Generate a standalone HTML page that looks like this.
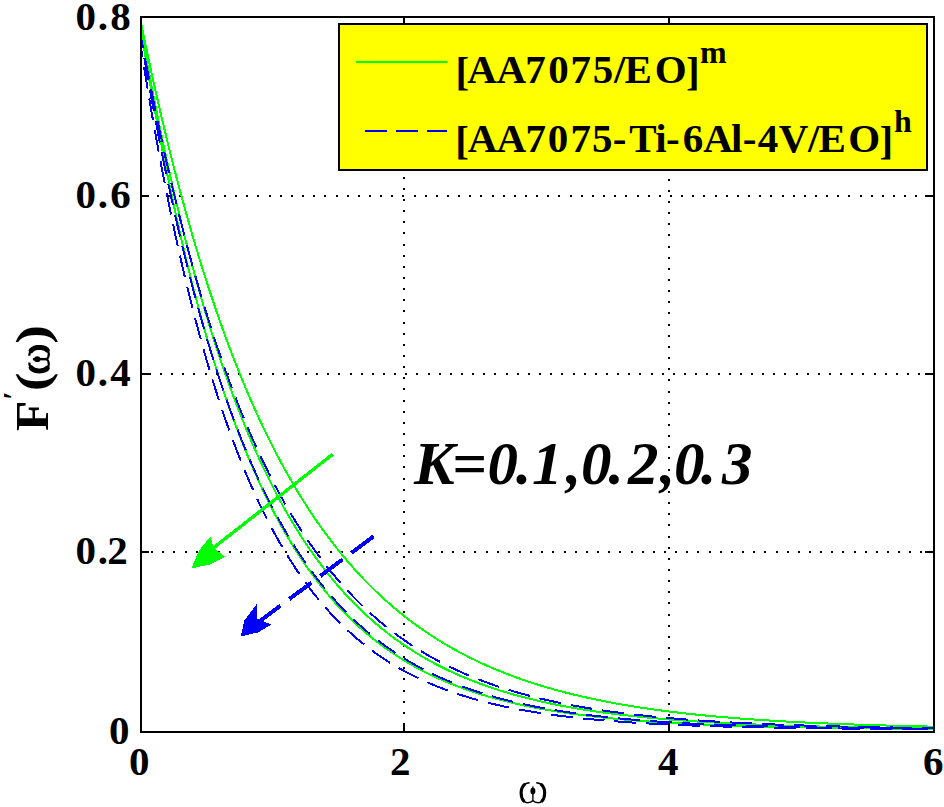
<!DOCTYPE html>
<html><head><meta charset="utf-8"><title>plot</title>
<style>
html,body{margin:0;padding:0;background:#fff;width:944px;height:807px;overflow:hidden}
svg{position:absolute;left:0;top:0;display:block}
</style></head>
<body>
<svg width="944" height="807" viewBox="0 0 944 807"><path d="M403,20h2v2h-2zM403,32h2v2h-2zM403,43h2v2h-2zM403,54h2v2h-2zM403,65h2v2h-2zM403,76h2v2h-2zM403,87h2v2h-2zM403,99h2v2h-2zM403,110h2v2h-2zM403,121h2v2h-2zM403,132h2v2h-2zM403,143h2v2h-2zM403,154h2v2h-2zM403,165h2v2h-2zM403,177h2v2h-2zM403,188h2v2h-2zM403,199h2v2h-2zM403,210h2v2h-2zM403,221h2v2h-2zM403,232h2v2h-2zM403,244h2v2h-2zM403,255h2v2h-2zM403,266h2v2h-2zM403,277h2v2h-2zM403,288h2v2h-2zM403,299h2v2h-2zM403,310h2v2h-2zM403,322h2v2h-2zM403,333h2v2h-2zM403,344h2v2h-2zM403,355h2v2h-2zM403,366h2v2h-2zM403,377h2v2h-2zM403,388h2v2h-2zM403,400h2v2h-2zM403,411h2v2h-2zM403,422h2v2h-2zM403,433h2v2h-2zM403,444h2v2h-2zM403,455h2v2h-2zM403,466h2v2h-2zM403,478h2v2h-2zM403,489h2v2h-2zM403,500h2v2h-2zM403,511h2v2h-2zM403,522h2v2h-2zM403,533h2v2h-2zM403,545h2v2h-2zM403,556h2v2h-2zM403,567h2v2h-2zM403,578h2v2h-2zM403,589h2v2h-2zM403,600h2v2h-2zM403,611h2v2h-2zM403,623h2v2h-2zM403,634h2v2h-2zM403,645h2v2h-2zM403,656h2v2h-2zM403,667h2v2h-2zM403,678h2v2h-2zM403,690h2v2h-2zM403,701h2v2h-2zM403,712h2v2h-2zM403,723h2v2h-2zM668,23h2v2h-2zM668,34h2v2h-2zM668,45h2v2h-2zM668,56h2v2h-2zM668,67h2v2h-2zM668,78h2v2h-2zM668,89h2v2h-2zM668,101h2v2h-2zM668,112h2v2h-2zM668,123h2v2h-2zM668,134h2v2h-2zM668,145h2v2h-2zM668,156h2v2h-2zM668,168h2v2h-2zM668,179h2v2h-2zM668,190h2v2h-2zM668,201h2v2h-2zM668,212h2v2h-2zM668,223h2v2h-2zM668,234h2v2h-2zM668,246h2v2h-2zM668,257h2v2h-2zM668,268h2v2h-2zM668,279h2v2h-2zM668,290h2v2h-2zM668,301h2v2h-2zM668,312h2v2h-2zM668,324h2v2h-2zM668,335h2v2h-2zM668,346h2v2h-2zM668,357h2v2h-2zM668,368h2v2h-2zM668,379h2v2h-2zM668,391h2v2h-2zM668,402h2v2h-2zM668,413h2v2h-2zM668,424h2v2h-2zM668,435h2v2h-2zM668,446h2v2h-2zM668,457h2v2h-2zM668,469h2v2h-2zM668,480h2v2h-2zM668,491h2v2h-2zM668,502h2v2h-2zM668,513h2v2h-2zM668,524h2v2h-2zM668,536h2v2h-2zM668,547h2v2h-2zM668,558h2v2h-2zM668,569h2v2h-2zM668,580h2v2h-2zM668,591h2v2h-2zM668,602h2v2h-2zM668,614h2v2h-2zM668,625h2v2h-2zM668,636h2v2h-2zM668,647h2v2h-2zM668,658h2v2h-2zM668,669h2v2h-2zM668,680h2v2h-2zM668,692h2v2h-2zM668,703h2v2h-2zM668,714h2v2h-2zM668,725h2v2h-2zM146,195h2v2h-2zM157,195h2v2h-2zM168,195h2v2h-2zM179,195h2v2h-2zM191,195h2v2h-2zM202,195h2v2h-2zM213,195h2v2h-2zM224,195h2v2h-2zM235,195h2v2h-2zM246,195h2v2h-2zM257,195h2v2h-2zM269,195h2v2h-2zM280,195h2v2h-2zM291,195h2v2h-2zM302,195h2v2h-2zM313,195h2v2h-2zM324,195h2v2h-2zM336,195h2v2h-2zM347,195h2v2h-2zM358,195h2v2h-2zM369,195h2v2h-2zM380,195h2v2h-2zM391,195h2v2h-2zM402,195h2v2h-2zM414,195h2v2h-2zM425,195h2v2h-2zM436,195h2v2h-2zM447,195h2v2h-2zM458,195h2v2h-2zM469,195h2v2h-2zM480,195h2v2h-2zM492,195h2v2h-2zM503,195h2v2h-2zM514,195h2v2h-2zM525,195h2v2h-2zM536,195h2v2h-2zM547,195h2v2h-2zM558,195h2v2h-2zM570,195h2v2h-2zM581,195h2v2h-2zM592,195h2v2h-2zM603,195h2v2h-2zM614,195h2v2h-2zM625,195h2v2h-2zM637,195h2v2h-2zM648,195h2v2h-2zM659,195h2v2h-2zM670,195h2v2h-2zM681,195h2v2h-2zM692,195h2v2h-2zM703,195h2v2h-2zM715,195h2v2h-2zM726,195h2v2h-2zM737,195h2v2h-2zM748,195h2v2h-2zM759,195h2v2h-2zM770,195h2v2h-2zM782,195h2v2h-2zM793,195h2v2h-2zM804,195h2v2h-2zM815,195h2v2h-2zM826,195h2v2h-2zM837,195h2v2h-2zM848,195h2v2h-2zM860,195h2v2h-2zM871,195h2v2h-2zM882,195h2v2h-2zM893,195h2v2h-2zM904,195h2v2h-2zM915,195h2v2h-2zM926,195h2v2h-2zM149,373h2v2h-2zM160,373h2v2h-2zM171,373h2v2h-2zM182,373h2v2h-2zM193,373h2v2h-2zM205,373h2v2h-2zM216,373h2v2h-2zM227,373h2v2h-2zM238,373h2v2h-2zM249,373h2v2h-2zM260,373h2v2h-2zM272,373h2v2h-2zM283,373h2v2h-2zM294,373h2v2h-2zM305,373h2v2h-2zM316,373h2v2h-2zM327,373h2v2h-2zM338,373h2v2h-2zM350,373h2v2h-2zM361,373h2v2h-2zM372,373h2v2h-2zM383,373h2v2h-2zM394,373h2v2h-2zM405,373h2v2h-2zM416,373h2v2h-2zM428,373h2v2h-2zM439,373h2v2h-2zM450,373h2v2h-2zM461,373h2v2h-2zM472,373h2v2h-2zM483,373h2v2h-2zM494,373h2v2h-2zM506,373h2v2h-2zM517,373h2v2h-2zM528,373h2v2h-2zM539,373h2v2h-2zM550,373h2v2h-2zM561,373h2v2h-2zM573,373h2v2h-2zM584,373h2v2h-2zM595,373h2v2h-2zM606,373h2v2h-2zM617,373h2v2h-2zM628,373h2v2h-2zM639,373h2v2h-2zM651,373h2v2h-2zM662,373h2v2h-2zM673,373h2v2h-2zM684,373h2v2h-2zM695,373h2v2h-2zM706,373h2v2h-2zM718,373h2v2h-2zM729,373h2v2h-2zM740,373h2v2h-2zM751,373h2v2h-2zM762,373h2v2h-2zM773,373h2v2h-2zM784,373h2v2h-2zM796,373h2v2h-2zM807,373h2v2h-2zM818,373h2v2h-2zM829,373h2v2h-2zM840,373h2v2h-2zM851,373h2v2h-2zM862,373h2v2h-2zM874,373h2v2h-2zM885,373h2v2h-2zM896,373h2v2h-2zM907,373h2v2h-2zM918,373h2v2h-2zM929,373h2v2h-2zM151,551h2v2h-2zM162,551h2v2h-2zM173,551h2v2h-2zM185,551h2v2h-2zM196,551h2v2h-2zM207,551h2v2h-2zM218,551h2v2h-2zM229,551h2v2h-2zM240,551h2v2h-2zM251,551h2v2h-2zM263,551h2v2h-2zM274,551h2v2h-2zM285,551h2v2h-2zM296,551h2v2h-2zM307,551h2v2h-2zM318,551h2v2h-2zM330,551h2v2h-2zM341,551h2v2h-2zM352,551h2v2h-2zM363,551h2v2h-2zM374,551h2v2h-2zM385,551h2v2h-2zM396,551h2v2h-2zM408,551h2v2h-2zM419,551h2v2h-2zM430,551h2v2h-2zM441,551h2v2h-2zM452,551h2v2h-2zM463,551h2v2h-2zM474,551h2v2h-2zM486,551h2v2h-2zM497,551h2v2h-2zM508,551h2v2h-2zM519,551h2v2h-2zM530,551h2v2h-2zM541,551h2v2h-2zM552,551h2v2h-2zM564,551h2v2h-2zM575,551h2v2h-2zM586,551h2v2h-2zM597,551h2v2h-2zM608,551h2v2h-2zM619,551h2v2h-2zM631,551h2v2h-2zM642,551h2v2h-2zM653,551h2v2h-2zM664,551h2v2h-2zM675,551h2v2h-2zM686,551h2v2h-2zM697,551h2v2h-2zM709,551h2v2h-2zM720,551h2v2h-2zM731,551h2v2h-2zM742,551h2v2h-2zM753,551h2v2h-2zM764,551h2v2h-2zM776,551h2v2h-2zM787,551h2v2h-2zM798,551h2v2h-2zM809,551h2v2h-2zM820,551h2v2h-2zM831,551h2v2h-2zM842,551h2v2h-2zM854,551h2v2h-2zM865,551h2v2h-2zM876,551h2v2h-2zM887,551h2v2h-2zM898,551h2v2h-2zM909,551h2v2h-2zM920,551h2v2h-2z" fill="#000"/><g fill="none" stroke-width="2" stroke-linejoin="round" shape-rendering="crispEdges"><path d="M139.00,13.05 L139.05,13.32 L139.17,13.87 L139.32,14.62 L139.50,15.54 L139.72,16.61 L139.96,17.81 L140.23,19.13 L140.52,20.57 L140.83,22.13 L141.17,23.78 L141.53,25.53 L141.91,27.38 L142.30,29.31 L142.72,31.33 L143.15,33.44 L143.61,35.62 L144.08,37.88 L144.56,40.21 L145.06,42.61 L145.58,45.08 L146.12,47.62 L146.67,50.22 L147.23,52.88 L147.81,55.60 L148.41,58.38 L149.02,61.22 L149.64,64.11 L150.28,67.05 L150.93,70.04 L151.60,73.08 L152.27,76.17 L152.97,79.30 L153.67,82.47 L154.39,85.69 L155.12,88.95 L155.86,92.25 L156.62,95.59 L157.38,98.96 L158.17,102.37 L158.96,105.81 L159.76,109.29 L160.58,112.79 L161.41,116.33 L162.25,119.90 L163.10,123.49 L163.96,127.11 L164.83,130.76 L165.72,134.43 L166.61,138.12 L167.52,141.83 L168.44,145.57 L169.37,149.33 L170.31,153.10 L171.26,156.90 L172.22,160.71 L173.19,164.53 L174.17,168.38 L175.17,172.23 L176.17,176.10 L177.18,179.98 L178.20,183.88 L179.24,187.78 L180.28,191.69 L181.33,195.61 L182.40,199.54 L183.47,203.48 L184.55,207.42 L185.65,211.37 L186.75,215.32 L187.86,219.28 L188.98,223.24 L190.11,227.20 L191.25,231.17 L192.40,235.13 L193.56,239.10 L194.73,243.07 L195.91,247.03 L197.10,250.99 L198.29,254.95 L199.50,258.91 L200.71,262.87 L201.94,266.82 L203.17,270.76 L204.41,274.70 L205.66,278.64 L206.92,282.56 L208.19,286.48 L209.47,290.40 L210.75,294.30 L212.05,298.20 L213.35,302.08 L214.66,305.96 L215.98,309.83 L217.31,313.68 L218.65,317.53 L219.99,321.36 L221.35,325.18 L222.71,328.99 L224.08,332.79 L225.46,336.57 L226.85,340.34 L228.24,344.10 L229.65,347.84 L231.06,351.56 L232.48,355.27 L233.91,358.97 L235.34,362.65 L236.79,366.31 L238.24,369.96 L239.70,373.59 L241.17,377.20 L242.65,380.80 L244.13,384.38 L245.62,387.94 L247.12,391.48 L248.63,395.00 L250.15,398.51 L251.67,402.00 L253.20,405.46 L254.74,408.91 L256.29,412.34 L257.85,415.74 L259.41,419.13 L260.98,422.50 L262.56,425.85 L264.14,429.17 L265.73,432.48 L267.33,435.76 L268.94,439.02 L270.56,442.27 L272.18,445.49 L273.81,448.69 L275.45,451.86 L277.09,455.02 L278.75,458.15 L280.41,461.26 L282.07,464.35 L283.75,467.42 L285.43,470.46 L287.12,473.49 L288.82,476.49 L290.52,479.46 L292.23,482.42 L293.95,485.35 L295.67,488.26 L297.41,491.14 L299.15,494.01 L300.89,496.85 L302.65,499.67 L304.41,502.46 L306.18,505.23 L307.95,507.98 L309.73,510.71 L311.52,513.41 L313.32,516.09 L315.12,518.74 L316.93,521.38 L318.75,523.99 L320.57,526.58 L322.40,529.14 L324.24,531.68 L326.08,534.20 L327.93,536.70 L329.79,539.17 L331.66,541.62 L333.53,544.05 L335.41,546.45 L337.29,548.83 L339.18,551.19 L341.08,553.53 L342.99,555.84 L344.90,558.13 L346.82,560.40 L348.74,562.65 L350.68,564.87 L352.61,567.08 L354.56,569.26 L356.51,571.42 L358.47,573.55 L360.43,575.67 L362.41,577.76 L364.38,579.83 L366.37,581.88 L368.36,583.91 L370.36,585.91 L372.36,587.90 L374.37,589.86 L376.39,591.81 L378.41,593.73 L380.44,595.63 L382.48,597.51 L384.52,599.37 L386.57,601.21 L388.63,603.03 L390.69,604.83 L392.76,606.61 L394.83,608.37 L396.91,610.11 L399.00,611.82 L401.09,613.52 L403.19,615.20 L405.30,616.86 L407.41,618.50 L409.53,620.13 L411.66,621.73 L413.79,623.31 L415.92,624.88 L418.07,626.42 L420.22,627.95 L422.37,629.46 L424.54,630.95 L426.70,632.43 L428.88,633.88 L431.06,635.32 L433.25,636.74 L435.44,638.14 L437.64,639.53 L439.84,640.90 L442.05,642.25 L444.27,643.58 L446.49,644.90 L448.72,646.20 L450.96,647.48 L453.20,648.75 L455.45,650.00 L457.70,651.23 L459.96,652.45 L462.22,653.66 L464.50,654.84 L466.77,656.02 L469.06,657.17 L471.35,658.31 L473.64,659.44 L475.94,660.55 L478.25,661.65 L480.56,662.73 L482.88,663.80 L485.20,664.85 L487.53,665.89 L489.87,666.91 L492.21,667.92 L494.56,668.92 L496.91,669.90 L499.27,670.87 L501.64,671.82 L504.01,672.77 L506.39,673.70 L508.77,674.61 L511.16,675.52 L513.55,676.41 L515.95,677.28 L518.36,678.15 L520.77,679.00 L523.19,679.84 L525.61,680.67 L528.04,681.49 L530.47,682.29 L532.91,683.09 L535.36,683.87 L537.81,684.64 L540.27,685.40 L542.73,686.15 L545.20,686.88 L547.67,687.61 L550.15,688.33 L552.64,689.03 L555.13,689.73 L557.62,690.41 L560.13,691.08 L562.63,691.75 L565.15,692.40 L567.67,693.04 L570.19,693.68 L572.72,694.30 L575.26,694.92 L577.80,695.52 L580.34,696.12 L582.90,696.70 L585.45,697.28 L588.02,697.85 L590.58,698.41 L593.16,698.96 L595.74,699.50 L598.32,700.04 L600.91,700.56 L603.51,701.08 L606.11,701.59 L608.72,702.09 L611.33,702.58 L613.95,703.07 L616.57,703.55 L619.20,704.02 L621.83,704.48 L624.47,704.93 L627.12,705.38 L629.77,705.82 L632.42,706.25 L635.08,706.68 L637.75,707.10 L640.42,707.51 L643.10,707.91 L645.78,708.31 L648.47,708.70 L651.16,709.09 L653.86,709.47 L656.56,709.84 L659.27,710.21 L661.99,710.57 L664.71,710.92 L667.43,711.27 L670.16,711.61 L672.90,711.95 L675.64,712.28 L678.38,712.61 L681.13,712.93 L683.89,713.24 L686.65,713.55 L689.42,713.85 L692.19,714.15 L694.97,714.45 L697.75,714.73 L700.54,715.02 L703.33,715.30 L706.13,715.57 L708.93,715.84 L711.74,716.10 L714.55,716.36 L717.37,716.62 L720.20,716.87 L723.02,717.11 L725.86,717.35 L728.70,717.59 L731.54,717.82 L734.39,718.05 L737.25,718.28 L740.11,718.50 L742.97,718.71 L745.84,718.93 L748.72,719.14 L751.60,719.34 L754.48,719.54 L757.37,719.74 L760.27,719.94 L763.17,720.13 L766.07,720.31 L768.99,720.50 L771.90,720.68 L774.82,720.86 L777.75,721.03 L780.68,721.20 L783.61,721.37 L786.56,721.53 L789.50,721.69 L792.45,721.85 L795.41,722.01 L798.37,722.16 L801.34,722.31 L804.31,722.46 L807.28,722.60 L810.26,722.74 L813.25,722.88 L816.24,723.02 L819.24,723.15 L822.24,723.28 L825.24,723.41 L828.25,723.54 L831.27,723.66 L834.29,723.78 L837.31,723.90 L840.34,724.02 L843.38,724.13 L846.42,724.24 L849.47,724.35 L852.52,724.46 L855.57,724.57 L858.63,724.67 L861.69,724.77 L864.76,724.87 L867.84,724.97 L870.92,725.07 L874.00,725.16 L877.09,725.25 L880.19,725.34 L883.28,725.43 L886.39,725.52 L889.50,725.60 L892.61,725.69 L895.73,725.77 L898.85,725.85 L901.98,725.93 L905.11,726.00 L908.25,726.08 L911.39,726.15 L914.54,726.23 L917.69,726.30 L920.85,726.37 L924.01,726.43 L927.17,726.50 L930.34,726.57 L933.52,726.63" stroke="#00ff00"/><path d="M139.00,17.50 L139.05,17.81 L139.17,18.45 L139.32,19.31 L139.50,20.36 L139.72,21.59 L139.96,22.97 L140.23,24.49 L140.52,26.15 L140.83,27.93 L141.17,29.83 L141.53,31.84 L141.91,33.96 L142.30,36.17 L142.72,38.49 L143.15,40.90 L143.61,43.40 L144.08,45.98 L144.56,48.65 L145.06,51.40 L145.58,54.22 L146.12,57.12 L146.67,60.08 L147.23,63.12 L147.81,66.22 L148.41,69.39 L149.02,72.61 L149.64,75.90 L150.28,79.24 L150.93,82.64 L151.60,86.09 L152.27,89.59 L152.97,93.14 L153.67,96.74 L154.39,100.38 L155.12,104.07 L155.86,107.79 L156.62,111.56 L157.38,115.36 L158.17,119.21 L158.96,123.08 L159.76,126.99 L160.58,130.93 L161.41,134.91 L162.25,138.91 L163.10,142.94 L163.96,146.99 L164.83,151.07 L165.72,155.17 L166.61,159.30 L167.52,163.44 L168.44,167.61 L169.37,171.79 L170.31,175.99 L171.26,180.20 L172.22,184.43 L173.19,188.68 L174.17,192.93 L175.17,197.20 L176.17,201.47 L177.18,205.76 L178.20,210.05 L179.24,214.35 L180.28,218.65 L181.33,222.96 L182.40,227.28 L183.47,231.59 L184.55,235.91 L185.65,240.23 L186.75,244.55 L187.86,248.87 L188.98,253.18 L190.11,257.50 L191.25,261.81 L192.40,266.11 L193.56,270.41 L194.73,274.71 L195.91,279.00 L197.10,283.28 L198.29,287.55 L199.50,291.81 L200.71,296.07 L201.94,300.31 L203.17,304.55 L204.41,308.77 L205.66,312.98 L206.92,317.17 L208.19,321.36 L209.47,325.53 L210.75,329.68 L212.05,333.82 L213.35,337.95 L214.66,342.06 L215.98,346.15 L217.31,350.22 L218.65,354.28 L219.99,358.32 L221.35,362.34 L222.71,366.34 L224.08,370.32 L225.46,374.28 L226.85,378.23 L228.24,382.15 L229.65,386.05 L231.06,389.93 L232.48,393.78 L233.91,397.62 L235.34,401.43 L236.79,405.22 L238.24,408.99 L239.70,412.73 L241.17,416.45 L242.65,420.15 L244.13,423.82 L245.62,427.47 L247.12,431.09 L248.63,434.69 L250.15,438.26 L251.67,441.81 L253.20,445.33 L254.74,448.83 L256.29,452.30 L257.85,455.74 L259.41,459.16 L260.98,462.55 L262.56,465.92 L264.14,469.26 L265.73,472.57 L267.33,475.86 L268.94,479.11 L270.56,482.35 L272.18,485.55 L273.81,488.73 L275.45,491.88 L277.09,495.00 L278.75,498.10 L280.41,501.17 L282.07,504.21 L283.75,507.22 L285.43,510.21 L287.12,513.17 L288.82,516.10 L290.52,519.00 L292.23,521.88 L293.95,524.73 L295.67,527.55 L297.41,530.35 L299.15,533.11 L300.89,535.85 L302.65,538.56 L304.41,541.25 L306.18,543.91 L307.95,546.54 L309.73,549.14 L311.52,551.72 L313.32,554.27 L315.12,556.79 L316.93,559.28 L318.75,561.75 L320.57,564.20 L322.40,566.61 L324.24,569.00 L326.08,571.36 L327.93,573.70 L329.79,576.01 L331.66,578.30 L333.53,580.56 L335.41,582.79 L337.29,585.00 L339.18,587.18 L341.08,589.34 L342.99,591.47 L344.90,593.57 L346.82,595.65 L348.74,597.71 L350.68,599.74 L352.61,601.75 L354.56,603.73 L356.51,605.69 L358.47,607.63 L360.43,609.54 L362.41,611.43 L364.38,613.29 L366.37,615.13 L368.36,616.95 L370.36,618.74 L372.36,620.51 L374.37,622.26 L376.39,623.99 L378.41,625.69 L380.44,627.37 L382.48,629.03 L384.52,630.67 L386.57,632.28 L388.63,633.88 L390.69,635.45 L392.76,637.00 L394.83,638.53 L396.91,640.04 L399.00,641.53 L401.09,643.00 L403.19,644.45 L405.30,645.88 L407.41,647.28 L409.53,648.67 L411.66,650.04 L413.79,651.39 L415.92,652.72 L418.07,654.04 L420.22,655.33 L422.37,656.61 L424.54,657.86 L426.70,659.10 L428.88,660.32 L431.06,661.52 L433.25,662.71 L435.44,663.88 L437.64,665.03 L439.84,666.16 L442.05,667.28 L444.27,668.38 L446.49,669.46 L448.72,670.53 L450.96,671.58 L453.20,672.61 L455.45,673.63 L457.70,674.63 L459.96,675.62 L462.22,676.59 L464.50,677.55 L466.77,678.49 L469.06,679.42 L471.35,680.34 L473.64,681.24 L475.94,682.12 L478.25,682.99 L480.56,683.85 L482.88,684.69 L485.20,685.52 L487.53,686.34 L489.87,687.14 L492.21,687.93 L494.56,688.71 L496.91,689.47 L499.27,690.23 L501.64,690.97 L504.01,691.69 L506.39,692.41 L508.77,693.11 L511.16,693.81 L513.55,694.49 L515.95,695.16 L518.36,695.81 L520.77,696.46 L523.19,697.10 L525.61,697.72 L528.04,698.34 L530.47,698.94 L532.91,699.54 L535.36,700.12 L537.81,700.69 L540.27,701.26 L542.73,701.81 L545.20,702.36 L547.67,702.89 L550.15,703.42 L552.64,703.93 L555.13,704.44 L557.62,704.94 L560.13,705.43 L562.63,705.91 L565.15,706.38 L567.67,706.84 L570.19,707.30 L572.72,707.75 L575.26,708.18 L577.80,708.62 L580.34,709.04 L582.90,709.45 L585.45,709.86 L588.02,710.26 L590.58,710.66 L593.16,711.04 L595.74,711.42 L598.32,711.79 L600.91,712.16 L603.51,712.52 L606.11,712.87 L608.72,713.21 L611.33,713.55 L613.95,713.88 L616.57,714.21 L619.20,714.53 L621.83,714.84 L624.47,715.15 L627.12,715.45 L629.77,715.75 L632.42,716.04 L635.08,716.33 L637.75,716.61 L640.42,716.88 L643.10,717.15 L645.78,717.41 L648.47,717.67 L651.16,717.92 L653.86,718.17 L656.56,718.42 L659.27,718.65 L661.99,718.89 L664.71,719.12 L667.43,719.34 L670.16,719.56 L672.90,719.78 L675.64,719.99 L678.38,720.20 L681.13,720.40 L683.89,720.60 L686.65,720.80 L689.42,720.99 L692.19,721.18 L694.97,721.36 L697.75,721.54 L700.54,721.72 L703.33,721.89 L706.13,722.06 L708.93,722.23 L711.74,722.39 L714.55,722.55 L717.37,722.70 L720.20,722.86 L723.02,723.01 L725.86,723.15 L728.70,723.29 L731.54,723.44 L734.39,723.57 L737.25,723.71 L740.11,723.84 L742.97,723.97 L745.84,724.09 L748.72,724.22 L751.60,724.34 L754.48,724.46 L757.37,724.57 L760.27,724.69 L763.17,724.80 L766.07,724.91 L768.99,725.01 L771.90,725.12 L774.82,725.22 L777.75,725.32 L780.68,725.42 L783.61,725.51 L786.56,725.60 L789.50,725.69 L792.45,725.78 L795.41,725.87 L798.37,725.96 L801.34,726.04 L804.31,726.12 L807.28,726.20 L810.26,726.28 L813.25,726.36 L816.24,726.43 L819.24,726.50 L822.24,726.58 L825.24,726.65 L828.25,726.71 L831.27,726.78 L834.29,726.85 L837.31,726.91 L840.34,726.97 L843.38,727.03 L846.42,727.09 L849.47,727.15 L852.52,727.21 L855.57,727.26 L858.63,727.32 L861.69,727.37 L864.76,727.42 L867.84,727.47 L870.92,727.52 L874.00,727.57 L877.09,727.62 L880.19,727.67 L883.28,727.71 L886.39,727.75 L889.50,727.80 L892.61,727.84 L895.73,727.88 L898.85,727.92 L901.98,727.96 L905.11,728.00 L908.25,728.04 L911.39,728.07 L914.54,728.11 L917.69,728.14 L920.85,728.18 L924.01,728.21 L927.17,728.24 L930.34,728.27 L933.52,728.31" stroke="#00ff00"/><path d="M139.00,17.50 L139.05,17.84 L139.17,18.54 L139.32,19.48 L139.50,20.63 L139.72,21.97 L139.96,23.48 L140.23,25.15 L140.52,26.96 L140.83,28.90 L141.17,30.97 L141.53,33.17 L141.91,35.48 L142.30,37.90 L142.72,40.43 L143.15,43.06 L143.61,45.78 L144.08,48.60 L144.56,51.50 L145.06,54.49 L145.58,57.57 L146.12,60.72 L146.67,63.95 L147.23,67.25 L147.81,70.62 L148.41,74.06 L149.02,77.56 L149.64,81.13 L150.28,84.76 L150.93,88.44 L151.60,92.18 L152.27,95.97 L152.97,99.82 L153.67,103.71 L154.39,107.65 L155.12,111.63 L155.86,115.66 L156.62,119.73 L157.38,123.83 L158.17,127.98 L158.96,132.15 L159.76,136.37 L160.58,140.61 L161.41,144.88 L162.25,149.18 L163.10,153.51 L163.96,157.87 L164.83,162.24 L165.72,166.64 L166.61,171.06 L167.52,175.50 L168.44,179.96 L169.37,184.43 L170.31,188.92 L171.26,193.42 L172.22,197.94 L173.19,202.46 L174.17,206.99 L175.17,211.54 L176.17,216.09 L177.18,220.64 L178.20,225.20 L179.24,229.77 L180.28,234.33 L181.33,238.90 L182.40,243.47 L183.47,248.04 L184.55,252.60 L185.65,257.16 L186.75,261.72 L187.86,266.28 L188.98,270.83 L190.11,275.37 L191.25,279.90 L192.40,284.43 L193.56,288.94 L194.73,293.45 L195.91,297.95 L197.10,302.43 L198.29,306.90 L199.50,311.36 L200.71,315.80 L201.94,320.23 L203.17,324.65 L204.41,329.05 L205.66,333.43 L206.92,337.79 L208.19,342.14 L209.47,346.46 L210.75,350.77 L212.05,355.06 L213.35,359.33 L214.66,363.57 L215.98,367.80 L217.31,372.00 L218.65,376.18 L219.99,380.34 L221.35,384.48 L222.71,388.59 L224.08,392.67 L225.46,396.74 L226.85,400.77 L228.24,404.78 L229.65,408.77 L231.06,412.73 L232.48,416.66 L233.91,420.57 L235.34,424.45 L236.79,428.30 L238.24,432.13 L239.70,435.93 L241.17,439.70 L242.65,443.44 L244.13,447.15 L245.62,450.83 L247.12,454.49 L248.63,458.11 L250.15,461.71 L251.67,465.27 L253.20,468.81 L254.74,472.32 L256.29,475.79 L257.85,479.24 L259.41,482.66 L260.98,486.04 L262.56,489.40 L264.14,492.72 L265.73,496.02 L267.33,499.28 L268.94,502.52 L270.56,505.72 L272.18,508.89 L273.81,512.04 L275.45,515.15 L277.09,518.23 L278.75,521.28 L280.41,524.29 L282.07,527.28 L283.75,530.24 L285.43,533.17 L287.12,536.06 L288.82,538.93 L290.52,541.76 L292.23,544.57 L293.95,547.34 L295.67,550.09 L297.41,552.80 L299.15,555.48 L300.89,558.14 L302.65,560.76 L304.41,563.35 L306.18,565.92 L307.95,568.45 L309.73,570.96 L311.52,573.43 L313.32,575.88 L315.12,578.30 L316.93,580.69 L318.75,583.05 L320.57,585.38 L322.40,587.68 L324.24,589.95 L326.08,592.20 L327.93,594.42 L329.79,596.61 L331.66,598.77 L333.53,600.91 L335.41,603.01 L337.29,605.09 L339.18,607.15 L341.08,609.17 L342.99,611.17 L344.90,613.15 L346.82,615.09 L348.74,617.02 L350.68,618.91 L352.61,620.78 L354.56,622.63 L356.51,624.45 L358.47,626.24 L360.43,628.01 L362.41,629.76 L364.38,631.48 L366.37,633.17 L368.36,634.85 L370.36,636.50 L372.36,638.12 L374.37,639.72 L376.39,641.30 L378.41,642.86 L380.44,644.39 L382.48,645.90 L384.52,647.39 L386.57,648.86 L388.63,650.30 L390.69,651.73 L392.76,653.13 L394.83,654.51 L396.91,655.87 L399.00,657.21 L401.09,658.53 L403.19,659.83 L405.30,661.11 L407.41,662.37 L409.53,663.61 L411.66,664.83 L413.79,666.03 L415.92,667.21 L418.07,668.38 L420.22,669.52 L422.37,670.65 L424.54,671.76 L426.70,672.85 L428.88,673.92 L431.06,674.98 L433.25,676.02 L435.44,677.04 L437.64,678.04 L439.84,679.03 L442.05,680.00 L444.27,680.96 L446.49,681.90 L448.72,682.83 L450.96,683.73 L453.20,684.63 L455.45,685.51 L457.70,686.37 L459.96,687.22 L462.22,688.05 L464.50,688.87 L466.77,689.68 L469.06,690.47 L471.35,691.25 L473.64,692.01 L475.94,692.76 L478.25,693.50 L480.56,694.23 L482.88,694.94 L485.20,695.64 L487.53,696.33 L489.87,697.00 L492.21,697.66 L494.56,698.31 L496.91,698.95 L499.27,699.58 L501.64,700.20 L504.01,700.80 L506.39,701.40 L508.77,701.98 L511.16,702.55 L513.55,703.11 L515.95,703.66 L518.36,704.21 L520.77,704.74 L523.19,705.26 L525.61,705.77 L528.04,706.27 L530.47,706.76 L532.91,707.25 L535.36,707.72 L537.81,708.18 L540.27,708.64 L542.73,709.09 L545.20,709.53 L547.67,709.96 L550.15,710.38 L552.64,710.79 L555.13,711.20 L557.62,711.59 L560.13,711.98 L562.63,712.37 L565.15,712.74 L567.67,713.11 L570.19,713.47 L572.72,713.82 L575.26,714.17 L577.80,714.51 L580.34,714.84 L582.90,715.16 L585.45,715.48 L588.02,715.80 L590.58,716.10 L593.16,716.40 L595.74,716.70 L598.32,716.98 L600.91,717.27 L603.51,717.54 L606.11,717.81 L608.72,718.08 L611.33,718.34 L613.95,718.59 L616.57,718.84 L619.20,719.08 L621.83,719.32 L624.47,719.56 L627.12,719.78 L629.77,720.01 L632.42,720.23 L635.08,720.44 L637.75,720.65 L640.42,720.86 L643.10,721.06 L645.78,721.26 L648.47,721.45 L651.16,721.64 L653.86,721.82 L656.56,722.00 L659.27,722.18 L661.99,722.35 L664.71,722.52 L667.43,722.69 L670.16,722.85 L672.90,723.01 L675.64,723.16 L678.38,723.31 L681.13,723.46 L683.89,723.60 L686.65,723.75 L689.42,723.88 L692.19,724.02 L694.97,724.15 L697.75,724.28 L700.54,724.41 L703.33,724.53 L706.13,724.65 L708.93,724.77 L711.74,724.89 L714.55,725.00 L717.37,725.11 L720.20,725.22 L723.02,725.32 L725.86,725.42 L728.70,725.52 L731.54,725.62 L734.39,725.72 L737.25,725.81 L740.11,725.90 L742.97,725.99 L745.84,726.08 L748.72,726.17 L751.60,726.25 L754.48,726.33 L757.37,726.41 L760.27,726.49 L763.17,726.56 L766.07,726.64 L768.99,726.71 L771.90,726.78 L774.82,726.85 L777.75,726.92 L780.68,726.98 L783.61,727.05 L786.56,727.11 L789.50,727.17 L792.45,727.23 L795.41,727.29 L798.37,727.35 L801.34,727.40 L804.31,727.46 L807.28,727.51 L810.26,727.56 L813.25,727.61 L816.24,727.66 L819.24,727.71 L822.24,727.75 L825.24,727.80 L828.25,727.84 L831.27,727.89 L834.29,727.93 L837.31,727.97 L840.34,728.01 L843.38,728.05 L846.42,728.09 L849.47,728.13 L852.52,728.16 L855.57,728.20 L858.63,728.23 L861.69,728.27 L864.76,728.30 L867.84,728.33 L870.92,728.36 L874.00,728.39 L877.09,728.42 L880.19,728.45 L883.28,728.48 L886.39,728.51 L889.50,728.53 L892.61,728.56 L895.73,728.59 L898.85,728.61 L901.98,728.63 L905.11,728.66 L908.25,728.68 L911.39,728.70 L914.54,728.73 L917.69,728.75 L920.85,728.77 L924.01,728.79 L927.17,728.81 L930.34,728.83 L933.52,728.84" stroke="#00ff00"/><path d="M139.00,26.40 L139.05,26.70 L139.17,27.30 L139.32,28.13 L139.50,29.14 L139.72,30.31 L139.96,31.63 L140.23,33.08 L140.52,34.66 L140.83,36.36 L141.17,38.18 L141.53,40.10 L141.91,42.12 L142.30,44.24 L142.72,46.46 L143.15,48.76 L143.61,51.15 L144.08,53.62 L144.56,56.17 L145.06,58.80 L145.58,61.50 L146.12,64.27 L146.67,67.11 L147.23,70.02 L147.81,72.99 L148.41,76.02 L149.02,79.11 L149.64,82.25 L150.28,85.45 L150.93,88.71 L151.60,92.02 L152.27,95.37 L152.97,98.77 L153.67,102.22 L154.39,105.71 L155.12,109.25 L155.86,112.82 L156.62,116.44 L157.38,120.09 L158.17,123.77 L158.96,127.50 L159.76,131.25 L160.58,135.04 L161.41,138.85 L162.25,142.70 L163.10,146.57 L163.96,150.46 L164.83,154.39 L165.72,158.33 L166.61,162.30 L167.52,166.29 L168.44,170.30 L169.37,174.32 L170.31,178.37 L171.26,182.42 L172.22,186.50 L173.19,190.59 L174.17,194.69 L175.17,198.80 L176.17,202.92 L177.18,207.06 L178.20,211.20 L179.24,215.35 L180.28,219.50 L181.33,223.67 L182.40,227.83 L183.47,232.00 L184.55,236.18 L185.65,240.35 L186.75,244.53 L187.86,248.70 L188.98,252.88 L190.11,257.06 L191.25,261.23 L192.40,265.40 L193.56,269.57 L194.73,273.73 L195.91,277.88 L197.10,282.04 L198.29,286.18 L199.50,290.32 L200.71,294.45 L201.94,298.57 L203.17,302.68 L204.41,306.78 L205.66,310.87 L206.92,314.95 L208.19,319.02 L209.47,323.08 L210.75,327.12 L212.05,331.15 L213.35,335.17 L214.66,339.17 L215.98,343.16 L217.31,347.13 L218.65,351.09 L219.99,355.03 L221.35,358.95 L222.71,362.86 L224.08,366.75 L225.46,370.62 L226.85,374.47 L228.24,378.30 L229.65,382.12 L231.06,385.91 L232.48,389.69 L233.91,393.44 L235.34,397.18 L236.79,400.89 L238.24,404.58 L239.70,408.25 L241.17,411.90 L242.65,415.53 L244.13,419.13 L245.62,422.72 L247.12,426.28 L248.63,429.81 L250.15,433.33 L251.67,436.82 L253.20,440.28 L254.74,443.72 L256.29,447.14 L257.85,450.54 L259.41,453.91 L260.98,457.25 L262.56,460.57 L264.14,463.87 L265.73,467.14 L267.33,470.38 L268.94,473.61 L270.56,476.80 L272.18,479.97 L273.81,483.11 L275.45,486.23 L277.09,489.33 L278.75,492.39 L280.41,495.44 L282.07,498.45 L283.75,501.44 L285.43,504.41 L287.12,507.34 L288.82,510.26 L290.52,513.14 L292.23,516.00 L293.95,518.84 L295.67,521.64 L297.41,524.43 L299.15,527.18 L300.89,529.91 L302.65,532.62 L304.41,535.30 L306.18,537.95 L307.95,540.57 L309.73,543.17 L311.52,545.75 L313.32,548.30 L315.12,550.82 L316.93,553.32 L318.75,555.79 L320.57,558.24 L322.40,560.66 L324.24,563.05 L326.08,565.43 L327.93,567.77 L329.79,570.09 L331.66,572.39 L333.53,574.66 L335.41,576.90 L337.29,579.12 L339.18,581.32 L341.08,583.49 L342.99,585.64 L344.90,587.77 L346.82,589.86 L348.74,591.94 L350.68,593.99 L352.61,596.02 L354.56,598.02 L356.51,600.01 L358.47,601.96 L360.43,603.90 L362.41,605.81 L364.38,607.70 L366.37,609.56 L368.36,611.41 L370.36,613.23 L372.36,615.03 L374.37,616.80 L376.39,618.56 L378.41,620.29 L380.44,622.00 L382.48,623.69 L384.52,625.36 L386.57,627.00 L388.63,628.63 L390.69,630.24 L392.76,631.82 L394.83,633.38 L396.91,634.93 L399.00,636.45 L401.09,637.95 L403.19,639.44 L405.30,640.90 L407.41,642.34 L409.53,643.77 L411.66,645.17 L413.79,646.56 L415.92,647.93 L418.07,649.28 L420.22,650.61 L422.37,651.92 L424.54,653.21 L426.70,654.49 L428.88,655.75 L431.06,656.99 L433.25,658.21 L435.44,659.41 L437.64,660.60 L439.84,661.77 L442.05,662.93 L444.27,664.07 L446.49,665.19 L448.72,666.29 L450.96,667.38 L453.20,668.46 L455.45,669.52 L457.70,670.56 L459.96,671.58 L462.22,672.60 L464.50,673.59 L466.77,674.57 L469.06,675.54 L471.35,676.49 L473.64,677.43 L475.94,678.35 L478.25,679.26 L480.56,680.16 L482.88,681.04 L485.20,681.91 L487.53,682.76 L489.87,683.61 L492.21,684.43 L494.56,685.25 L496.91,686.05 L499.27,686.84 L501.64,687.62 L504.01,688.39 L506.39,689.14 L508.77,689.88 L511.16,690.61 L513.55,691.33 L515.95,692.03 L518.36,692.73 L520.77,693.41 L523.19,694.08 L525.61,694.74 L528.04,695.39 L530.47,696.03 L532.91,696.66 L535.36,697.28 L537.81,697.89 L540.27,698.49 L542.73,699.08 L545.20,699.66 L547.67,700.23 L550.15,700.78 L552.64,701.33 L555.13,701.87 L557.62,702.41 L560.13,702.93 L562.63,703.44 L565.15,703.95 L567.67,704.44 L570.19,704.93 L572.72,705.41 L575.26,705.88 L577.80,706.34 L580.34,706.79 L582.90,707.24 L585.45,707.68 L588.02,708.11 L590.58,708.53 L593.16,708.95 L595.74,709.36 L598.32,709.76 L600.91,710.15 L603.51,710.54 L606.11,710.92 L608.72,711.29 L611.33,711.66 L613.95,712.02 L616.57,712.37 L619.20,712.72 L621.83,713.06 L624.47,713.39 L627.12,713.72 L629.77,714.04 L632.42,714.36 L635.08,714.67 L637.75,714.97 L640.42,715.27 L643.10,715.56 L645.78,715.85 L648.47,716.13 L651.16,716.41 L653.86,716.68 L656.56,716.95 L659.27,717.21 L661.99,717.47 L664.71,717.72 L667.43,717.97 L670.16,718.21 L672.90,718.45 L675.64,718.68 L678.38,718.91 L681.13,719.13 L683.89,719.35 L686.65,719.57 L689.42,719.78 L692.19,719.99 L694.97,720.19 L697.75,720.39 L700.54,720.59 L703.33,720.78 L706.13,720.96 L708.93,721.15 L711.74,721.33 L714.55,721.51 L717.37,721.68 L720.20,721.85 L723.02,722.02 L725.86,722.18 L728.70,722.34 L731.54,722.50 L734.39,722.65 L737.25,722.80 L740.11,722.95 L742.97,723.09 L745.84,723.23 L748.72,723.37 L751.60,723.51 L754.48,723.64 L757.37,723.77 L760.27,723.90 L763.17,724.02 L766.07,724.15 L768.99,724.27 L771.90,724.38 L774.82,724.50 L777.75,724.61 L780.68,724.72 L783.61,724.83 L786.56,724.93 L789.50,725.04 L792.45,725.14 L795.41,725.24 L798.37,725.33 L801.34,725.43 L804.31,725.52 L807.28,725.61 L810.26,725.70 L813.25,725.79 L816.24,725.88 L819.24,725.96 L822.24,726.04 L825.24,726.12 L828.25,726.20 L831.27,726.28 L834.29,726.35 L837.31,726.42 L840.34,726.50 L843.38,726.57 L846.42,726.63 L849.47,726.70 L852.52,726.77 L855.57,726.83 L858.63,726.89 L861.69,726.95 L864.76,727.01 L867.84,727.07 L870.92,727.13 L874.00,727.19 L877.09,727.24 L880.19,727.30 L883.28,727.35 L886.39,727.40 L889.50,727.45 L892.61,727.50 L895.73,727.55 L898.85,727.59 L901.98,727.64 L905.11,727.68 L908.25,727.73 L911.39,727.77 L914.54,727.81 L917.69,727.85 L920.85,727.89 L924.01,727.93 L927.17,727.97 L930.34,728.01 L933.52,728.04" stroke="#0000ff" stroke-dasharray="22 10"/><path d="M139.00,26.40 L139.05,26.73 L139.17,27.40 L139.32,28.32 L139.50,29.44 L139.72,30.74 L139.96,32.21 L140.23,33.82 L140.52,35.58 L140.83,37.47 L141.17,39.48 L141.53,41.61 L141.91,43.86 L142.30,46.21 L142.72,48.66 L143.15,51.21 L143.61,53.86 L144.08,56.59 L144.56,59.42 L145.06,62.32 L145.58,65.31 L146.12,68.37 L146.67,71.51 L147.23,74.71 L147.81,77.99 L148.41,81.33 L149.02,84.74 L149.64,88.21 L150.28,91.73 L150.93,95.31 L151.60,98.95 L152.27,102.64 L152.97,106.38 L153.67,110.16 L154.39,113.99 L155.12,117.87 L155.86,121.79 L156.62,125.74 L157.38,129.74 L158.17,133.77 L158.96,137.84 L159.76,141.94 L160.58,146.07 L161.41,150.23 L162.25,154.42 L163.10,158.64 L163.96,162.88 L164.83,167.15 L165.72,171.43 L166.61,175.74 L167.52,180.07 L168.44,184.41 L169.37,188.77 L170.31,193.15 L171.26,197.54 L172.22,201.94 L173.19,206.35 L174.17,210.78 L175.17,215.21 L176.17,219.65 L177.18,224.10 L178.20,228.55 L179.24,233.01 L180.28,237.46 L181.33,241.93 L182.40,246.39 L183.47,250.85 L184.55,255.31 L185.65,259.77 L186.75,264.23 L187.86,268.68 L188.98,273.13 L190.11,277.57 L191.25,282.00 L192.40,286.43 L193.56,290.85 L194.73,295.26 L195.91,299.66 L197.10,304.05 L198.29,308.43 L199.50,312.80 L200.71,317.15 L201.94,321.49 L203.17,325.81 L204.41,330.12 L205.66,334.42 L206.92,338.70 L208.19,342.96 L209.47,347.20 L210.75,351.43 L212.05,355.64 L213.35,359.83 L214.66,363.99 L215.98,368.14 L217.31,372.27 L218.65,376.38 L219.99,380.46 L221.35,384.52 L222.71,388.56 L224.08,392.58 L225.46,396.58 L226.85,400.55 L228.24,404.49 L229.65,408.41 L231.06,412.31 L232.48,416.18 L233.91,420.03 L235.34,423.85 L236.79,427.64 L238.24,431.41 L239.70,435.15 L241.17,438.87 L242.65,442.56 L244.13,446.22 L245.62,449.85 L247.12,453.45 L248.63,457.03 L250.15,460.58 L251.67,464.10 L253.20,467.59 L254.74,471.05 L256.29,474.49 L257.85,477.89 L259.41,481.27 L260.98,484.62 L262.56,487.93 L264.14,491.22 L265.73,494.48 L267.33,497.71 L268.94,500.91 L270.56,504.08 L272.18,507.22 L273.81,510.34 L275.45,513.42 L277.09,516.47 L278.75,519.49 L280.41,522.49 L282.07,525.45 L283.75,528.38 L285.43,531.29 L287.12,534.16 L288.82,537.00 L290.52,539.82 L292.23,542.60 L293.95,545.36 L295.67,548.09 L297.41,550.78 L299.15,553.45 L300.89,556.09 L302.65,558.70 L304.41,561.28 L306.18,563.83 L307.95,566.36 L309.73,568.85 L311.52,571.32 L313.32,573.75 L315.12,576.16 L316.93,578.54 L318.75,580.90 L320.57,583.22 L322.40,585.52 L324.24,587.79 L326.08,590.03 L327.93,592.24 L329.79,594.43 L331.66,596.59 L333.53,598.73 L335.41,600.83 L337.29,602.91 L339.18,604.97 L341.08,606.99 L342.99,609.00 L344.90,610.97 L346.82,612.92 L348.74,614.85 L350.68,616.75 L352.61,618.62 L354.56,620.47 L356.51,622.30 L358.47,624.10 L360.43,625.87 L362.41,627.62 L364.38,629.35 L366.37,631.05 L368.36,632.73 L370.36,634.39 L372.36,636.03 L374.37,637.64 L376.39,639.23 L378.41,640.79 L380.44,642.33 L382.48,643.86 L384.52,645.36 L386.57,646.83 L388.63,648.29 L390.69,649.72 L392.76,651.14 L394.83,652.53 L396.91,653.90 L399.00,655.26 L401.09,656.59 L403.19,657.90 L405.30,659.19 L407.41,660.47 L409.53,661.72 L411.66,662.95 L413.79,664.17 L415.92,665.36 L418.07,666.54 L420.22,667.70 L422.37,668.84 L424.54,669.97 L426.70,671.07 L428.88,672.16 L431.06,673.23 L433.25,674.29 L435.44,675.32 L437.64,676.34 L439.84,677.35 L442.05,678.33 L444.27,679.31 L446.49,680.26 L448.72,681.20 L450.96,682.13 L453.20,683.03 L455.45,683.93 L457.70,684.81 L459.96,685.67 L462.22,686.52 L464.50,687.36 L466.77,688.18 L469.06,688.99 L471.35,689.78 L473.64,690.56 L475.94,691.33 L478.25,692.08 L480.56,692.82 L482.88,693.55 L485.20,694.27 L487.53,694.97 L489.87,695.66 L492.21,696.34 L494.56,697.01 L496.91,697.66 L499.27,698.30 L501.64,698.93 L504.01,699.56 L506.39,700.16 L508.77,700.76 L511.16,701.35 L513.55,701.93 L515.95,702.49 L518.36,703.05 L520.77,703.59 L523.19,704.13 L525.61,704.66 L528.04,705.17 L530.47,705.68 L532.91,706.18 L535.36,706.67 L537.81,707.14 L540.27,707.61 L542.73,708.08 L545.20,708.53 L547.67,708.97 L550.15,709.41 L552.64,709.83 L555.13,710.25 L557.62,710.66 L560.13,711.07 L562.63,711.46 L565.15,711.85 L567.67,712.23 L570.19,712.60 L572.72,712.97 L575.26,713.33 L577.80,713.68 L580.34,714.02 L582.90,714.36 L585.45,714.69 L588.02,715.02 L590.58,715.34 L593.16,715.65 L595.74,715.95 L598.32,716.25 L600.91,716.55 L603.51,716.83 L606.11,717.11 L608.72,717.39 L611.33,717.66 L613.95,717.93 L616.57,718.19 L619.20,718.44 L621.83,718.69 L624.47,718.93 L627.12,719.17 L629.77,719.41 L632.42,719.63 L635.08,719.86 L637.75,720.08 L640.42,720.29 L643.10,720.50 L645.78,720.71 L648.47,720.91 L651.16,721.11 L653.86,721.30 L656.56,721.49 L659.27,721.68 L661.99,721.86 L664.71,722.04 L667.43,722.21 L670.16,722.38 L672.90,722.55 L675.64,722.71 L678.38,722.87 L681.13,723.03 L683.89,723.18 L686.65,723.33 L689.42,723.47 L692.19,723.62 L694.97,723.76 L697.75,723.89 L700.54,724.03 L703.33,724.16 L706.13,724.28 L708.93,724.41 L711.74,724.53 L714.55,724.65 L717.37,724.77 L720.20,724.88 L723.02,724.99 L725.86,725.10 L728.70,725.21 L731.54,725.31 L734.39,725.42 L737.25,725.51 L740.11,725.61 L742.97,725.71 L745.84,725.80 L748.72,725.89 L751.60,725.98 L754.48,726.07 L757.37,726.15 L760.27,726.23 L763.17,726.31 L766.07,726.39 L768.99,726.47 L771.90,726.55 L774.82,726.62 L777.75,726.69 L780.68,726.76 L783.61,726.83 L786.56,726.90 L789.50,726.96 L792.45,727.03 L795.41,727.09 L798.37,727.15 L801.34,727.21 L804.31,727.27 L807.28,727.32 L810.26,727.38 L813.25,727.43 L816.24,727.49 L819.24,727.54 L822.24,727.59 L825.24,727.64 L828.25,727.69 L831.27,727.73 L834.29,727.78 L837.31,727.82 L840.34,727.87 L843.38,727.91 L846.42,727.95 L849.47,727.99 L852.52,728.03 L855.57,728.07 L858.63,728.10 L861.69,728.14 L864.76,728.18 L867.84,728.21 L870.92,728.25 L874.00,728.28 L877.09,728.31 L880.19,728.34 L883.28,728.37 L886.39,728.40 L889.50,728.43 L892.61,728.46 L895.73,728.49 L898.85,728.51 L901.98,728.54 L905.11,728.57 L908.25,728.59 L911.39,728.62 L914.54,728.64 L917.69,728.66 L920.85,728.69 L924.01,728.71 L927.17,728.73 L930.34,728.75 L933.52,728.77" stroke="#0000ff" stroke-dasharray="22 10"/><path d="M139.00,35.30 L139.05,35.65 L139.17,36.37 L139.32,37.35 L139.50,38.54 L139.72,39.92 L139.96,41.48 L140.23,43.20 L140.52,45.07 L140.83,47.08 L141.17,49.22 L141.53,51.49 L141.91,53.87 L142.30,56.37 L142.72,58.98 L143.15,61.69 L143.61,64.49 L144.08,67.40 L144.56,70.39 L145.06,73.48 L145.58,76.64 L146.12,79.89 L146.67,83.21 L147.23,86.61 L147.81,90.08 L148.41,93.62 L149.02,97.22 L149.64,100.89 L150.28,104.61 L150.93,108.40 L151.60,112.24 L152.27,116.13 L152.97,120.08 L153.67,124.07 L154.39,128.11 L155.12,132.19 L155.86,136.32 L156.62,140.48 L157.38,144.69 L158.17,148.93 L158.96,153.20 L159.76,157.51 L160.58,161.84 L161.41,166.21 L162.25,170.60 L163.10,175.02 L163.96,179.46 L164.83,183.93 L165.72,188.41 L166.61,192.91 L167.52,197.44 L168.44,201.97 L169.37,206.52 L170.31,211.09 L171.26,215.66 L172.22,220.25 L173.19,224.84 L174.17,229.44 L175.17,234.05 L176.17,238.66 L177.18,243.28 L178.20,247.90 L179.24,252.51 L180.28,257.13 L181.33,261.75 L182.40,266.37 L183.47,270.98 L184.55,275.59 L185.65,280.19 L186.75,284.79 L187.86,289.37 L188.98,293.95 L190.11,298.52 L191.25,303.09 L192.40,307.63 L193.56,312.17 L194.73,316.70 L195.91,321.21 L197.10,325.70 L198.29,330.18 L199.50,334.65 L200.71,339.09 L201.94,343.52 L203.17,347.93 L204.41,352.33 L205.66,356.70 L206.92,361.05 L208.19,365.38 L209.47,369.69 L210.75,373.98 L212.05,378.25 L213.35,382.49 L214.66,386.71 L215.98,390.90 L217.31,395.07 L218.65,399.22 L219.99,403.34 L221.35,407.43 L222.71,411.50 L224.08,415.54 L225.46,419.55 L226.85,423.53 L228.24,427.49 L229.65,431.42 L231.06,435.32 L232.48,439.19 L233.91,443.03 L235.34,446.85 L236.79,450.63 L238.24,454.38 L239.70,458.10 L241.17,461.80 L242.65,465.46 L244.13,469.09 L245.62,472.69 L247.12,476.26 L248.63,479.80 L250.15,483.30 L251.67,486.78 L253.20,490.22 L254.74,493.63 L256.29,497.01 L257.85,500.35 L259.41,503.67 L260.98,506.95 L262.56,510.20 L264.14,513.42 L265.73,516.61 L267.33,519.76 L268.94,522.88 L270.56,525.97 L272.18,529.03 L273.81,532.06 L275.45,535.05 L277.09,538.01 L278.75,540.94 L280.41,543.84 L282.07,546.70 L283.75,549.53 L285.43,552.33 L287.12,555.10 L288.82,557.84 L290.52,560.55 L292.23,563.22 L293.95,565.86 L295.67,568.48 L297.41,571.06 L299.15,573.61 L300.89,576.13 L302.65,578.61 L304.41,581.07 L306.18,583.50 L307.95,585.90 L309.73,588.26 L311.52,590.60 L313.32,592.91 L315.12,595.18 L316.93,597.43 L318.75,599.65 L320.57,601.84 L322.40,604.00 L324.24,606.13 L326.08,608.24 L327.93,610.31 L329.79,612.36 L331.66,614.38 L333.53,616.37 L335.41,618.34 L337.29,620.27 L339.18,622.18 L341.08,624.07 L342.99,625.92 L344.90,627.76 L346.82,629.56 L348.74,631.34 L350.68,633.09 L352.61,634.82 L354.56,636.52 L356.51,638.20 L358.47,639.85 L360.43,641.48 L362.41,643.08 L364.38,644.66 L366.37,646.22 L368.36,647.75 L370.36,649.26 L372.36,650.75 L374.37,652.21 L376.39,653.65 L378.41,655.07 L380.44,656.46 L382.48,657.84 L384.52,659.19 L386.57,660.52 L388.63,661.83 L390.69,663.12 L392.76,664.39 L394.83,665.63 L396.91,666.86 L399.00,668.07 L401.09,669.26 L403.19,670.43 L405.30,671.58 L407.41,672.71 L409.53,673.82 L411.66,674.91 L413.79,675.98 L415.92,677.04 L418.07,678.08 L420.22,679.10 L422.37,680.10 L424.54,681.09 L426.70,682.06 L428.88,683.01 L431.06,683.95 L433.25,684.87 L435.44,685.77 L437.64,686.66 L439.84,687.53 L442.05,688.39 L444.27,689.23 L446.49,690.05 L448.72,690.86 L450.96,691.66 L453.20,692.44 L455.45,693.21 L457.70,693.97 L459.96,694.71 L462.22,695.44 L464.50,696.15 L466.77,696.85 L469.06,697.54 L471.35,698.21 L473.64,698.88 L475.94,699.53 L478.25,700.16 L480.56,700.79 L482.88,701.40 L485.20,702.01 L487.53,702.60 L489.87,703.18 L492.21,703.75 L494.56,704.30 L496.91,704.85 L499.27,705.39 L501.64,705.91 L504.01,706.43 L506.39,706.94 L508.77,707.43 L511.16,707.92 L513.55,708.39 L515.95,708.86 L518.36,709.32 L520.77,709.77 L523.19,710.21 L525.61,710.64 L528.04,711.06 L530.47,711.48 L532.91,711.88 L535.36,712.28 L537.81,712.67 L540.27,713.05 L542.73,713.42 L545.20,713.79 L547.67,714.15 L550.15,714.50 L552.64,714.84 L555.13,715.18 L557.62,715.51 L560.13,715.83 L562.63,716.15 L565.15,716.46 L567.67,716.76 L570.19,717.06 L572.72,717.35 L575.26,717.63 L577.80,717.91 L580.34,718.18 L582.90,718.45 L585.45,718.71 L588.02,718.96 L590.58,719.21 L593.16,719.45 L595.74,719.69 L598.32,719.93 L600.91,720.16 L603.51,720.38 L606.11,720.60 L608.72,720.81 L611.33,721.02 L613.95,721.23 L616.57,721.43 L619.20,721.62 L621.83,721.81 L624.47,722.00 L627.12,722.18 L629.77,722.36 L632.42,722.53 L635.08,722.71 L637.75,722.87 L640.42,723.04 L643.10,723.19 L645.78,723.35 L648.47,723.50 L651.16,723.65 L653.86,723.80 L656.56,723.94 L659.27,724.08 L661.99,724.21 L664.71,724.35 L667.43,724.48 L670.16,724.60 L672.90,724.72 L675.64,724.85 L678.38,724.96 L681.13,725.08 L683.89,725.19 L686.65,725.30 L689.42,725.41 L692.19,725.51 L694.97,725.61 L697.75,725.71 L700.54,725.81 L703.33,725.90 L706.13,726.00 L708.93,726.09 L711.74,726.18 L714.55,726.26 L717.37,726.35 L720.20,726.43 L723.02,726.51 L725.86,726.59 L728.70,726.66 L731.54,726.74 L734.39,726.81 L737.25,726.88 L740.11,726.95 L742.97,727.02 L745.84,727.08 L748.72,727.15 L751.60,727.21 L754.48,727.27 L757.37,727.33 L760.27,727.39 L763.17,727.44 L766.07,727.50 L768.99,727.55 L771.90,727.60 L774.82,727.65 L777.75,727.70 L780.68,727.75 L783.61,727.80 L786.56,727.85 L789.50,727.89 L792.45,727.93 L795.41,727.98 L798.37,728.02 L801.34,728.06 L804.31,728.10 L807.28,728.14 L810.26,728.17 L813.25,728.21 L816.24,728.25 L819.24,728.28 L822.24,728.31 L825.24,728.35 L828.25,728.38 L831.27,728.41 L834.29,728.44 L837.31,728.47 L840.34,728.50 L843.38,728.53 L846.42,728.55 L849.47,728.58 L852.52,728.61 L855.57,728.63 L858.63,728.66 L861.69,728.68 L864.76,728.70 L867.84,728.72 L870.92,728.75 L874.00,728.77 L877.09,728.79 L880.19,728.81 L883.28,728.83 L886.39,728.85 L889.50,728.87 L892.61,728.88 L895.73,728.90 L898.85,728.92 L901.98,728.94 L905.11,728.95 L908.25,728.97 L911.39,728.98 L914.54,729.00 L917.69,729.01 L920.85,729.03 L924.01,729.04 L927.17,729.05 L930.34,729.07 L933.52,729.08" stroke="#0000ff" stroke-dasharray="22 10"/></g><path d="M0,0H944V16H0Z M0,733H944V807H0Z M0,0H140V807H0Z M935,0H944V807H935Z" fill="#fff"/><path d="M332.8,454.2 L212.5,548.6" stroke="#00ff00" stroke-width="3.3" fill="none" shape-rendering="crispEdges"/><path d="M191.3,568.4 L199.3,550.0 L210.5,536.5 L213.5,547.8 L225.3,557.0 L210.0,564.5Z" fill="#00ff00" shape-rendering="crispEdges"/><path d="M373.6,536.4 L258.0,622.4" stroke="#0000ff" stroke-width="4.0" fill="none" shape-rendering="crispEdges" stroke-dasharray="27.7 11"/><path d="M240.6,636.4 L244.6,620.0 L257.0,603.8 L256.8,618.6 L271.2,624.5 L258.0,632.5Z" fill="#0000ff" shape-rendering="crispEdges"/><path d="M140,16H935V18H140Z M140,731H935V733H140Z M140,16H142V733H140Z M933,16H935V733H933Z" fill="#000"/><path d="M142,195h7v2h-7z M925,195h8v2h-8z M142,373h7v2h-7z M925,373h8v2h-8z M142,551h7v2h-7z M925,551h8v2h-8z M403,18h2v8h-2z M403,723h2v8h-2z M668,18h2v8h-2z M668,723h2v8h-2z " fill="#000"/><rect x="339" y="24" width="588" height="146" fill="#ffff00" stroke="#000" stroke-width="2"/><path d="M356,61H447V63H356Z" fill="#00ff00"/><path d="M365,130H387V132H365Z M396,130H418V132H396Z M427,130H447V132H427Z" fill="#0000ff"/><g font-family="Liberation Serif" font-weight="bold" font-size="41" fill="#000"><text x="455.4 467.3 496.5 525.3 548.2 570.5 592.7 614.0 624.6 654.8 686.0" y="85.0 82.5 82.5 82.5 82.5 82.5 82.5 82.5 82.5 82.5 85.0" >[AA7075/EO]</text><text x="700" y="63" font-size="32">m</text><text x="455.2 467.7 496.5 525.5 547.7 570.4 591.9 612.7 629.3 655.2 666.1 682.7 703.2 731.0 742.7 757.8 778.8 808.0 818.6 848.3 879.6" y="154.0 152.0 152.0 152.0 152.0 152.0 152.0 152.0 152.0 152.0 152.0 152.0 152.0 152.0 152.0 152.0 152.0 152.0 152.0 152.0 154.0" >[AA7075-Ti-6Al-4V/EO]</text><text x="894" y="131.5" font-size="32">h</text><text x="75.4 97.8 110.3" y="30" >0.8</text><text x="75.4 97.8 110.3" y="207.7" >0.6</text><text x="75.4 97.8 110.3" y="385.6" >0.4</text><text x="75.4 97.8 107.2" y="564" >0.2</text><text x="109.0" y="744.2" >0</text><text x="129.0" y="775.4" >0</text><text x="390.0" y="775.4" >2</text><text x="658.0" y="775.4" >4</text><text x="923.0" y="775.4" >6</text></g><text x="414.0 452.0 487.5 516.0 532.0 566.0 581.0 608.6 628.0 660.0 674.0 701.0 722.0" y="484" font-family="Liberation Serif" font-weight="bold" font-style="italic" font-size="61">K=0.1,0.2,0.3</text><g transform="translate(532.9,803.4)"><path d="M-3.30,-20.65 C-8.50,-20.65 -11.75,-16.20 -11.75,-10.70 C-11.75,-4.20 -8.80,-0.75 -5.40,-0.75 C-2.60,-0.75 -1.00,-1.60 0.00,-2.90" fill="none" stroke="#000" stroke-width="1.5"/><path d="M-8.52,-18.73 L-9.47,-17.74 L-10.27,-16.58 L-10.91,-15.27 L-11.37,-13.85 L-11.65,-12.32 L-11.75,-10.70 L-11.66,-8.84 L-11.42,-7.17 L-11.02,-5.68 L-10.49,-4.39 L-9.85,-3.29 L-9.10,-2.38" fill="none" stroke="#000" stroke-width="3.1" stroke-linecap="round" stroke-linejoin="round"/><path d="M3.30,-20.65 C8.50,-20.65 11.75,-16.20 11.75,-10.70 C11.75,-4.20 8.80,-0.75 5.40,-0.75 C2.60,-0.75 1.00,-1.60 0.00,-2.90" fill="none" stroke="#000" stroke-width="1.5"/><path d="M8.52,-18.73 L9.47,-17.74 L10.27,-16.58 L10.91,-15.27 L11.37,-13.85 L11.65,-12.32 L11.75,-10.70 L11.66,-8.84 L11.42,-7.17 L11.02,-5.68 L10.49,-4.39 L9.85,-3.29 L9.10,-2.38" fill="none" stroke="#000" stroke-width="3.1" stroke-linecap="round" stroke-linejoin="round"/><ellipse cx="0" cy="-12.3" rx="2.5" ry="3.4" fill="#000"/><path d="M0,-16.900000000000002 L0,-2.6" stroke="#000" stroke-width="1.4" fill="none"/></g><g transform="translate(48,430) rotate(-90)" font-family="Liberation Serif" font-size="47"><text x="-0.9" y="0" font-weight="bold" transform="scale(1.054,1)">F</text><text x="30.3" y="-25" font-weight="bold" font-size="30">′</text><text x="40.4" y="0" font-weight="bold" transform="translate(48.35,0) scale(1.2,1) translate(-48.35,0)">(</text><g transform="translate(70.85,1.9)"><path d="M-3.30,-20.60 C-8.50,-20.60 -11.75,-16.50 -11.75,-10.85 C-11.75,-4.20 -8.80,-1.10 -5.40,-1.10 C-2.60,-1.10 -1.00,-1.60 0.00,-3.30" fill="none" stroke="#000" stroke-width="2.2"/><path d="M-8.52,-18.80 L-9.47,-17.84 L-10.27,-16.72 L-10.91,-15.45 L-11.37,-14.03 L-11.65,-12.50 L-11.75,-10.85 L-11.66,-8.96 L-11.42,-7.28 L-11.02,-5.81 L-10.49,-4.55 L-9.85,-3.48 L-9.10,-2.62" fill="none" stroke="#000" stroke-width="5.0" stroke-linecap="round" stroke-linejoin="round"/><path d="M3.30,-20.60 C8.50,-20.60 11.75,-16.50 11.75,-10.85 C11.75,-4.20 8.80,-1.10 5.40,-1.10 C2.60,-1.10 1.00,-1.60 0.00,-3.30" fill="none" stroke="#000" stroke-width="2.2"/><path d="M8.52,-18.80 L9.47,-17.84 L10.27,-16.72 L10.91,-15.45 L11.37,-14.03 L11.65,-12.50 L11.75,-10.85 L11.66,-8.96 L11.42,-7.28 L11.02,-5.81 L10.49,-4.55 L9.85,-3.48 L9.10,-2.62" fill="none" stroke="#000" stroke-width="5.0" stroke-linecap="round" stroke-linejoin="round"/><ellipse cx="0" cy="-12.65" rx="2.95" ry="3.15" fill="#000"/><path d="M0,-17.0 L0,-3.0" stroke="#000" stroke-width="2.5" fill="none"/></g><text x="87.8" y="0" font-weight="bold" transform="translate(95.85,0) scale(1.2,1) translate(-95.85,0)">)</text></g></svg>
</body></html>
